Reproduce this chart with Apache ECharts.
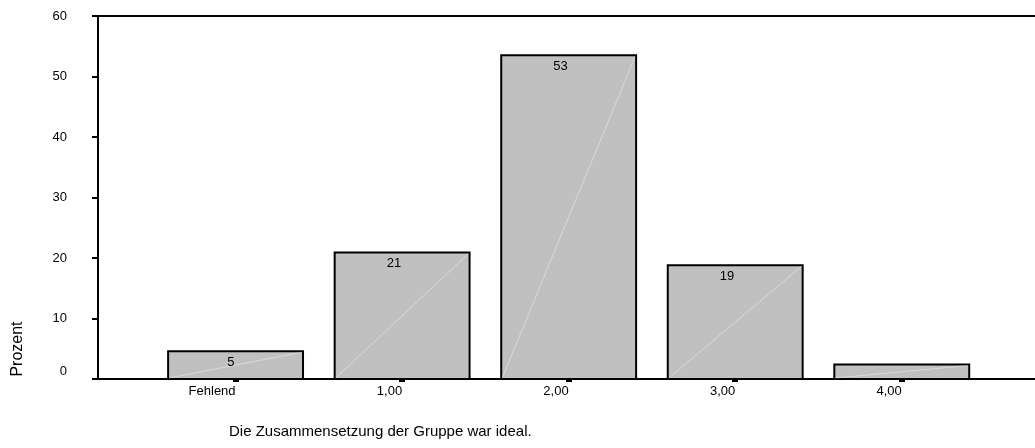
<!DOCTYPE html>
<html>
<head>
<meta charset="utf-8">
<script src="https://cdn.jsdelivr.net/npm/echarts@6/dist/echarts.min.js"></script>
<style>html,body{margin:0;padding:0;background:#fff}#c{width:1035px;height:448px}</style>
</head>
<body>
<div id="c"></div>
<script>
const categories = ['Fehlend', '1,00', '2,00', '3,00', '4,00'];
const values = [4.6, 20.9, 53.5, 18.8, 2.4];
const barLabels = ['5', '21', '53', '19', ''];
const yTicks = [0, 10, 20, 30, 40, 50, 60];
const xTitle = 'Die Zusammensetzung der Gruppe war ideal.';
const yTitle = 'Prozent';

const FONT = '"Liberation Sans", Arial, sans-serif';
const chart = echarts.init(document.getElementById('c'), null, {renderer: 'canvas'});
const idx = categories.map((_, i) => i);
const HALF = 0.405;

chart.setOption({
  animation: false,
  title: {
    text: xTitle, left: 224, top: 419,
    textStyle: {fontFamily: FONT, fontSize: 15, fontWeight: 'normal', color: '#000'}
  },
  graphic: [{
    type: 'text', x: 18, y: 349, rotation: Math.PI / 2,
    style: {text: yTitle, font: '16px ' + FONT, fill: '#000', align: 'center', verticalAlign: 'middle'}
  }],
  grid: {left: 98, right: 0, top: 16, bottom: 69, containLabel: false},
  xAxis: [{
    type: 'value', min: -0.826, max: 4.8, position: 'bottom',
    splitLine: {show: false},
    axisLine: {show: true, onZero: false, lineStyle: {color: '#000', width: 2}},
    axisTick: {show: true, customValues: idx, length: 3, lineStyle: {color: '#000', width: 6}},
    axisLabel: {show: true, customValues: idx, margin: 6, align: 'right', fontFamily: FONT, fontSize: 13, color: '#000',
      formatter: v => categories[Math.round(v)] || ''}
  }, {
    type: 'value', min: -0.826, max: 4.8, position: 'top',
    splitLine: {show: false},
    axisLine: {show: true, onZero: false, lineStyle: {color: '#000', width: 2}},
    axisTick: {show: false}, axisLabel: {show: false}
  }],
  yAxis: {
    type: 'value', min: 0, max: 60, interval: 10,
    splitLine: {show: false},
    axisLine: {show: true, onZero: false, lineStyle: {color: '#000', width: 2}},
    axisTick: {show: true, length: 6, lineStyle: {color: '#000', width: 2}},
    axisLabel: {margin: 31, fontFamily: FONT, fontSize: 13, color: '#000',
      formatter: v => yTicks.includes(v) ? (v === 0 ? '{z|0}' : String(v)) : '',
      rich: {z: {fontFamily: FONT, fontSize: 13, color: '#000', padding: [0, 0, 16, 0]}}}
  },
  series: [{
    type: 'custom',
    xAxisIndex: 0,
    data: values.map((v, i) => [i, v, barLabels[i]]),
    renderItem: function (params, api) {
      const x = api.value(0), v = api.value(1);
      const label = barLabels[params.dataIndex];
      const p0 = api.coord([x - HALF, 0]);
      const p1 = api.coord([x + HALF, v]);
      const children = [{
        type: 'rect',
        shape: {x: p0[0], y: p1[1], width: p1[0] - p0[0], height: p0[1] - p1[1]},
        style: {fill: '#c0c0c0', stroke: '#000', lineWidth: 2}
      }, {
        type: 'line',
        shape: {x1: p0[0] + 1, y1: p0[1] - 1, x2: p1[0] - 1, y2: p1[1] + 1},
        style: {stroke: 'rgba(255,255,255,0.4)', lineWidth: 1}
      }];
      if (label) {
        children.push({
          type: 'text', x: (p0[0] + p1[0]) / 2 - 1, y: p1[1] + 11,
          style: {text: label, font: '13px ' + FONT, fill: '#000', align: 'right', verticalAlign: 'middle'}
        });
      }
      return {type: 'group', children: children};
    }
  }]
});
</script>
</body>
</html>
